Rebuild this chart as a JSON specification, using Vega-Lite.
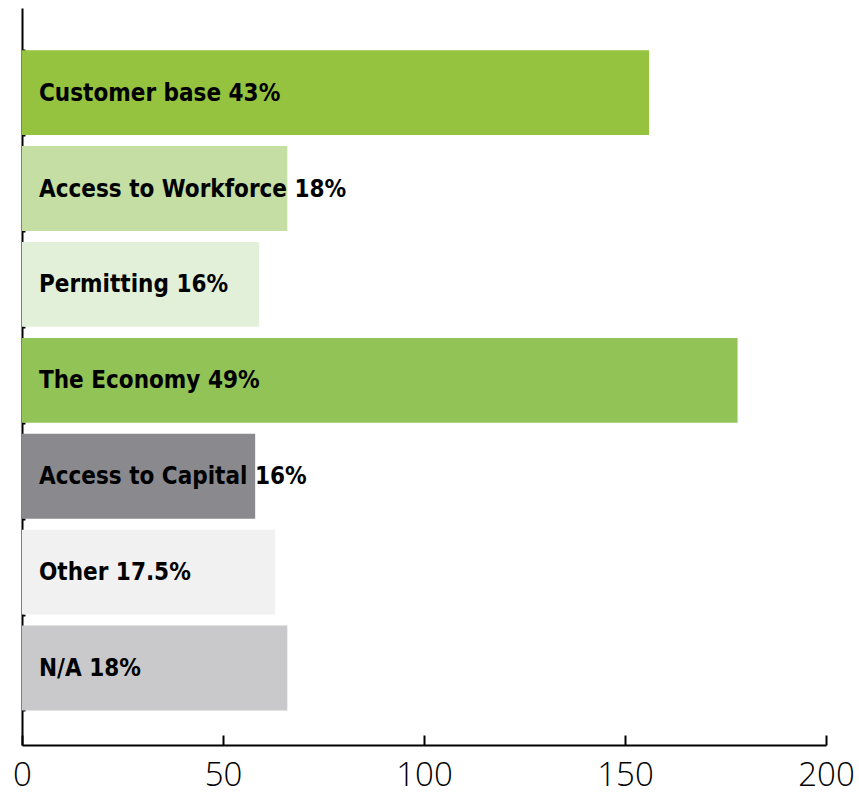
{
  "$schema": "https://vega.github.io/schema/vega-lite/v6.json",
  "width": 804,
  "height": 737,
  "autosize": {"type": "none"},
  "padding": {"left": 22, "top": 8, "right": 33, "bottom": 49},
  "background": "white",
  "config": {"view": {"stroke": null}},
  "data": {
    "values": [
      {"category": "Customer base", "label": "Customer base 43%", "value": 156, "color": "#95c23f"},
      {"category": "Access to Workforce", "label": "Access to Workforce 18%", "value": 66, "color": "#c4dea3"},
      {"category": "Permitting", "label": "Permitting 16%", "value": 59, "color": "#e3f0d9"},
      {"category": "The Economy", "label": "The Economy 49%", "value": 178, "color": "#92c356"},
      {"category": "Access to Capital", "label": "Access to Capital 16%", "value": 58, "color": "#8a898e"},
      {"category": "Other", "label": "Other 17.5%", "value": 63, "color": "#f1f1f1"},
      {"category": "N/A", "label": "N/A 18%", "value": 66, "color": "#c9c9cb"}
    ]
  },
  "encoding": {
    "y": {
      "field": "category",
      "type": "nominal",
      "sort": null,
      "scale": {"paddingInner": 0.115, "paddingOuter": 0.4, "align": 0.55},
      "axis": {
        "title": null,
        "labels": false,
        "domainColor": "black",
        "domainWidth": 2,
        "tickColor": "black",
        "tickWidth": 2,
        "tickSize": -3,
        "tickBand": "extent"
      }
    }
  },
  "layer": [
    {
      "mark": {"type": "bar"},
      "encoding": {
        "x": {
          "field": "value",
          "type": "quantitative",
          "scale": {"domain": [0, 200], "nice": false},
          "axis": {
            "title": null,
            "values": [0, 50, 100, 150, 200],
            "grid": false,
            "domainColor": "black",
            "domainWidth": 2,
            "tickColor": "black",
            "tickWidth": 2,
            "tickSize": -10,
            "labelPadding": 24,
            "labelFont": "Open Sans",
            "labelFontWeight": 300,
            "labelFontSize": 33,
            "labelColor": "black",
            "labelFlush": false
          }
        },
        "color": {"field": "color", "type": "nominal", "scale": null, "legend": null}
      }
    },
    {
      "mark": {"type": "text", "align": "left", "baseline": "middle", "dx": 17, "dy": 1, "font": "DejaVu Sans Condensed, Roboto Condensed, Roboto", "fontWeight": "bold", "fontSize": 24, "color": "black"},
      "encoding": {
        "x": {"datum": 0, "type": "quantitative"},
        "text": {"field": "label"}
      }
    }
  ]
}
